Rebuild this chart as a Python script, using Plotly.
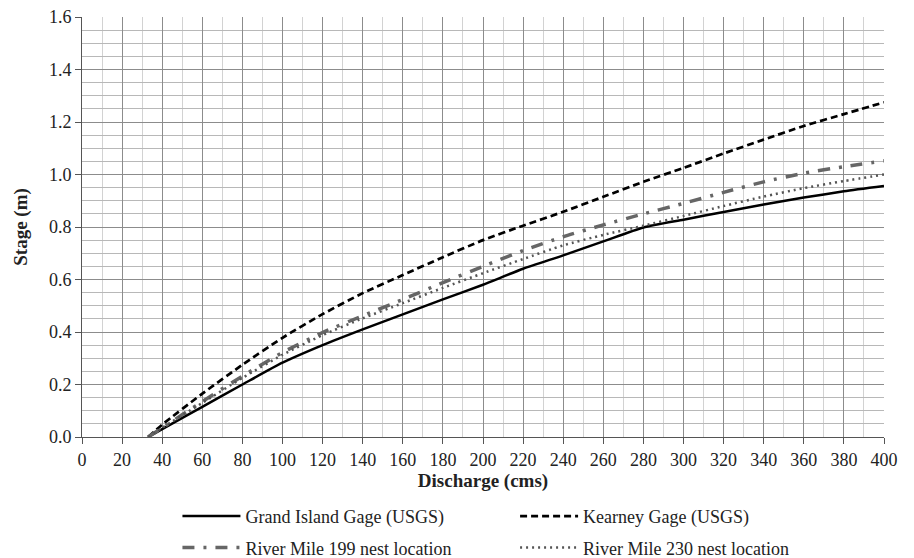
import plotly.graph_objects as go

discharge = [33, 40, 60, 80, 100, 120, 140, 160, 180, 200, 220, 240, 260, 280, 300, 320, 340, 360, 380, 400]
grand_island = [0, 0.03, 0.115, 0.2, 0.283, 0.35, 0.41, 0.467, 0.524, 0.58, 0.641, 0.692, 0.745, 0.798, 0.828, 0.857, 0.886, 0.912, 0.936, 0.956]
kearney = [0, 0.047, 0.165, 0.275, 0.378, 0.468, 0.548, 0.617, 0.685, 0.75, 0.805, 0.858, 0.915, 0.972, 1.025, 1.08, 1.133, 1.185, 1.23, 1.275]
rm199 = [0, 0.035, 0.135, 0.232, 0.322, 0.398, 0.462, 0.524, 0.588, 0.65, 0.71, 0.763, 0.808, 0.85, 0.89, 0.932, 0.972, 1.005, 1.03, 1.052]
rm230 = [0, 0.035, 0.13, 0.225, 0.313, 0.388, 0.452, 0.51, 0.568, 0.624, 0.678, 0.73, 0.77, 0.805, 0.842, 0.88, 0.916, 0.948, 0.975, 1.0]

names = ["Grand Island Gage (USGS)", "Kearney Gage (USGS)",
         "River Mile 199 nest location", "River Mile 230 nest location"]

FONT = "Liberation Serif"

fig = go.Figure()
fig.add_trace(go.Scatter(x=discharge, y=grand_island, mode="lines", name=names[0],
                         legend="legend", legendgroup="a",
                         line=dict(color="black", width=2.5, shape="spline", smoothing=0.6)))
fig.add_trace(go.Scatter(x=discharge, y=kearney, mode="lines", name=names[1],
                         legend="legend2", legendgroup="b",
                         line=dict(color="black", width=2.7, dash="7px,4px", shape="spline", smoothing=0.6)))
fig.add_trace(go.Scatter(x=discharge, y=rm199, mode="lines", name=names[2],
                         legend="legend", legendgroup="c",
                         line=dict(color="#666666", width=3.5, dash="12px,9px,3px,9px", shape="spline", smoothing=0.6)))
fig.add_trace(go.Scatter(x=discharge, y=rm230, mode="lines", name=names[3],
                         legend="legend2", legendgroup="d",
                         line=dict(color="#555555", width=2.5, dash="2px,4px", shape="spline", smoothing=0.6)))

legend_common = dict(
    orientation="v", yanchor="top", y=-0.145,
    font=dict(family=FONT, size=18, color="#222222"),
    tracegroupgap=5, itemwidth=58,
    bgcolor="rgba(0,0,0,0)",
)

fig.update_layout(
    width=914, height=558,
    margin=dict(l=74, r=38, t=9, b=129, autoexpand=False),
    paper_bgcolor="white", plot_bgcolor="white",
    font=dict(family=FONT, size=18, color="#222222"),
    xaxis=dict(
        range=[0, 400], dtick=20, tick0=0, automargin=False,
        showgrid=True, gridcolor="#8c8c8c", gridwidth=1,
        minor=dict(dtick=10, showgrid=True, gridcolor="#d2d2d2", gridwidth=1),
        ticks="outside", ticklen=6, tickcolor="#555555",
        showline=True, linecolor="#555555", linewidth=1,
        zeroline=False, ticklabeloverflow="allow",
        tickfont=dict(family=FONT, size=18),
        title=dict(text="<b>Discharge (cms)</b>", font=dict(family=FONT, size=19), standoff=0),
    ),
    yaxis=dict(
        range=[0, 1.6], dtick=0.2, tick0=0, tickformat=".1f", automargin=False,
        showgrid=True, gridcolor="#8c8c8c", gridwidth=1,
        minor=dict(dtick=0.05, showgrid=True, gridcolor="#b8b8b8", gridwidth=1),
        ticks="outside", ticklen=6, tickcolor="#555555",
        showline=True, linecolor="#555555", linewidth=1,
        zeroline=False, ticklabeloverflow="allow",
        tickfont=dict(family=FONT, size=18),
        title=dict(text="<b>Stage (m)</b>", font=dict(family=FONT, size=19), standoff=16),
    ),
    legend=dict(x=0.119, xanchor="left", **legend_common),
    legend2=dict(x=0.54, xanchor="left", **legend_common),
    showlegend=True,
)

fig.write_html("out.html")
